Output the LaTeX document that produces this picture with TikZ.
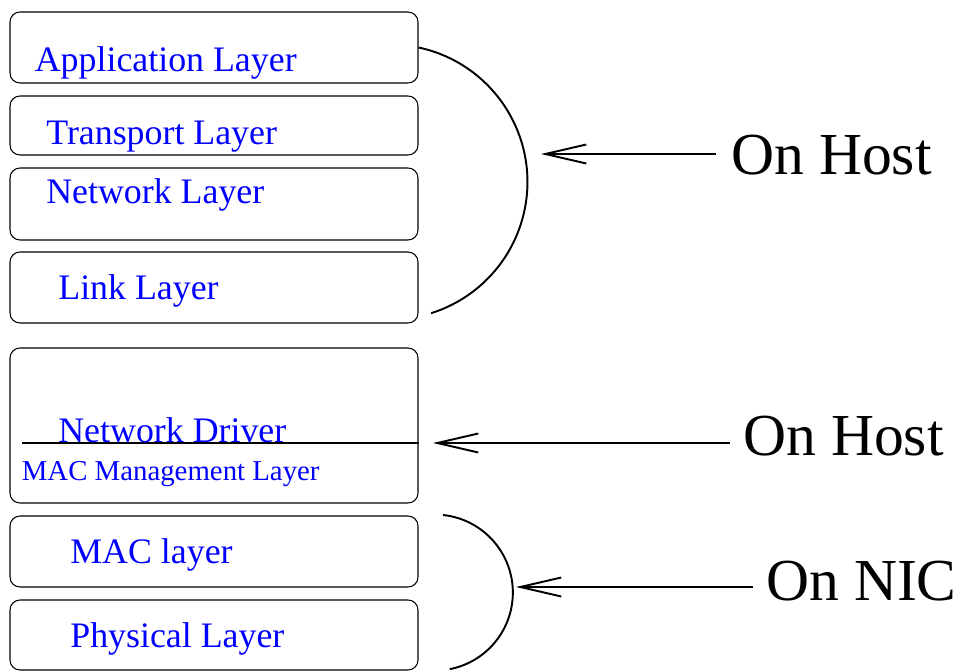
\documentclass[tikz,border=0pt]{standalone}
\usepackage{fontspec}
\setmainfont{Liberation Serif}
\usetikzlibrary{positioning, arrows.meta}

\begin{document}
\begin{tikzpicture}[
    % GLOBAL CFG
    >={Straight Barb[length=8.2mm, width=3.8mm]},
    % Styles
    layerbox/.style={% For the stack boxes
        rectangle,
        rounded corners=2mm,
        draw=black,
        line width=0.6pt,
        minimum width=8.16cm,
        inner sep=0pt,
    },
    layertext/.style={% Blue text inside the boxes
        anchor=base west,
        inner sep=0pt,
        text=blue,
        font=\fontsize{20.4pt}{24pt}\selectfont,
    },
    smalltext/.style={
        layertext,
        font=\fontsize{16.4pt}{20pt}\selectfont,
    },
    mylabel/.style={% Labels on the right
        anchor=base west,
        inner sep=0pt,
        font=\fontsize{33.9pt}{40pt}\selectfont,
    },
    ArrowL/.style={% Pointing arrows
        ->,
        line width=1.1pt,
    },
    ArrowArc/.style={% Half circles grouping the layers
        line width=1.1pt,
    },
    ]

    \useasboundingbox (0,0) rectangle (19.22,-13.42);

    % Draw boxes named box#
    \node [layerbox, minimum height=1.42cm] (box1) at (4.28,-0.95) {};
    \node [layerbox, minimum height=1.18cm] (box2) at (4.28,-2.51) {};
    \node [layerbox, minimum height=1.44cm] (box3) at (4.28,-4.08) {};
    \node [layerbox, minimum height=1.42cm] (box4) at (4.28,-5.75) {};
    \node [layerbox, minimum height=3.10cm] (box5) at (4.28,-8.51) {};
    \node [layerbox, minimum height=1.42cm] (box6) at (4.28,-11.03) {};
    \node [layerbox, minimum height=1.40cm] (box7) at (4.28,-12.70) {};

    % Divider inside box5
    \coordinate (divl) at (0.44,-8.86);
    \draw [line width=0.6pt] (divl) -- (divl -| box5.east);

    % Text in the boxes
    \node [layertext] (app) at (0.69,-1.434) {Application Layer};
    \node [layertext] (trans) at (0.92,-2.88) {Transport Layer};
    \node [layertext] (net) at (0.92,-4.06) {Network Layer};
    \node [layertext] (link) at (1.16,-5.98) {Link Layer};
    \node [layertext] (drv) at (1.16,-8.84) {Network Driver};
    \node [smalltext] (mgmt) at (0.43,-9.60) {MAC Management Layer};
    \node [layertext] (mac) at (1.40,-11.26) {MAC layer};
    \node [layertext] (phy) at (1.40,-12.94) {Physical Layer};

    % Labels on the right
    \node [mylabel] (host1) at (14.62,-3.48) {On Host};
    \node [mylabel] (host2) at (14.86,-9.10) {On Host};
    \node [mylabel] (nic) at (15.32,-12.00) {On NIC};

    % Arcs
    \draw [ArrowArc] (box1.east) arc[start angle=78, end angle=-72.6, radius=2.75cm];
    \coordinate (arcn) at (8.86,-10.30);
    \draw [ArrowArc] (arcn) arc[start angle=84, end angle=-79, radius=1.56cm];

    % Arrows
    \coordinate (tail1) at (14.32,-3.08);
    \coordinate (tip1) at (10.82,-3.08);
    \coordinate (tail2) at (14.60,-8.86);
    \coordinate (tip2) at (8.66,-8.86);
    \coordinate (tail3) at (15.06,-11.74);
    \coordinate (tip3) at (10.32,-11.74);
    \draw [ArrowL] (tail1) -- (tip1);
    \draw [ArrowL] (tail2) -- (tip2);
    \draw [ArrowL] (tail3) -- (tip3);

\end{tikzpicture}
\end{document}
